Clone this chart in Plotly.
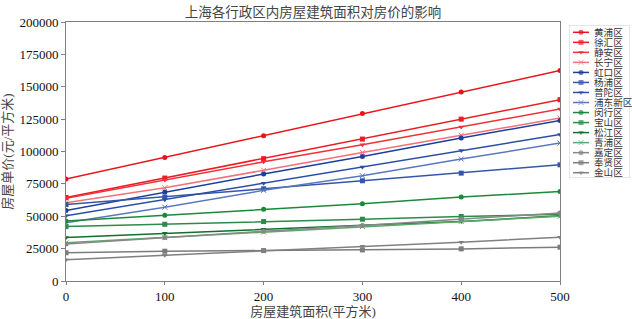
import plotly.graph_objects as go

areas = [0, 100, 200, 300, 400, 500]

districts = ["黄浦区", "徐汇区", "静安区", "长宁区",
             "虹口区", "杨浦区", "普陀区", "浦东新区",
             "闵行区", "宝山区", "松江区", "青浦区",
             "嘉定区", "奉贤区", "金山区"]

huangpu = [78700, 95400, 112200, 129300, 146000, 162500]
xuhui = [64500, 79500, 94500, 109600, 125000, 140000]
jingan = [63800, 78000, 92000, 105200, 118900, 132800]
changning = [60500, 72000, 85500, 99300, 112500, 125800]
hongkou = [54500, 68700, 82600, 96200, 110400, 124000]
yangpu = [59000, 64900, 71200, 77400, 83300, 89700]
putuo = [50300, 62800, 75500, 88000, 100800, 113200]
pudong = [45000, 57000, 70000, 81300, 94200, 106500]
minhang = [46400, 50800, 55500, 59600, 64800, 69100]
baoshan = [42000, 43800, 45900, 47700, 49800, 51500]
songjiang = [33600, 36900, 40000, 43000, 46000, 50300]
qingpu = [29500, 33500, 37800, 42000, 46000, 50000]
jiading = [28600, 33500, 38500, 42800, 47800, 52600]
fengxian = [21800, 23000, 23500, 24000, 24800, 26100]
jinshan = [16500, 19800, 23300, 26800, 30000, 33800]

series = [huangpu, xuhui, jingan, changning, hongkou, yangpu, putuo, pudong,
          minhang, baoshan, songjiang, qingpu, jiading, fengxian, jinshan]

colors = ["#e8141c", "#ec1c24", "#f0303a", "#f27078",
          "#1c3f9a", "#3556a8", "#2a4ea8", "#5a78c0",
          "#1a8a3a", "#2a8c48", "#11702c", "#5aaa6a",
          "#888888", "#7c7c7c", "#808080"]
symbols = ["circle", "square", "triangle-down", "x-thin"] * 3 + ["circle", "square", "triangle-down"]

NUMFONT = '"Liberation Serif", "Times New Roman", serif'
FONT = '"Liberation Serif", "Times New Roman", "Noto Sans CJK SC", serif'

fig = go.Figure()
for name, vals, c, s in zip(districts, series, colors, symbols):
    fig.add_trace(go.Scatter(
        x=areas, y=vals, name=name, mode="lines+markers",
        line=dict(color=c, width=1.5),
        marker=dict(symbol=s, size=5, color=c, line=dict(color=c, width=1 if s == "x-thin" else 0)),
        showlegend=False, xaxis="x", yaxis="y"))

# manual legend drawn on a helper axis (pixel-like coordinates)
leg_top, leg_step = 32.3, 10.03
for i, (name, c, s) in enumerate(zip(districts, colors, symbols)):
    yy = leg_top + leg_step * i
    fig.add_trace(go.Scatter(
        x=[573, 581, 589], y=[yy, yy, yy], mode="lines+markers",
        line=dict(color=c, width=1.5),
        marker=dict(symbol=s, size=[0, 5, 0], color=c,
                    line=dict(color=c, width=1 if s == "x-thin" else 0)),
        showlegend=False, hoverinfo="skip", xaxis="x2", yaxis="y2"))
    fig.add_annotation(x=592, y=yy, xref="x2", yref="y2", text=name,
                       showarrow=False, xanchor="left", yanchor="middle",
                       font=dict(family=FONT, size=9.6, color="#333"))

fig.add_shape(type="rect", xref="x2", yref="y2", x0=569, x1=630, y0=25, y1=178,
              line=dict(color="#cccccc", width=1), fillcolor="rgba(255,255,255,0.8)", layer="below")

W, H = 632, 319
L, R, T, B = 66, 2, 22, 38
pw = W - L - R
main_right = (560 - L) / pw

fig.update_layout(
    width=W, height=H,
    margin=dict(l=L, r=R, t=T, b=B, autoexpand=False),
    paper_bgcolor="white", plot_bgcolor="white",
    title=dict(text="上海各行政区内房屋建筑面积对房价的影响", x=(66 + 560) / 2 / W, xanchor="center",
               y=1 - 12 / H, yanchor="middle", automargin=False,
               font=dict(family=FONT, size=13.5, color="#444")),
    xaxis=dict(domain=[0, main_right], range=[0, 500], tickvals=[0, 100, 200, 300, 400, 500],
               showgrid=False, zeroline=False, showline=True, mirror=True, automargin=False,
               linecolor="#808080", linewidth=1, ticks="outside", ticklen=3, tickcolor="#808080",
               tickfont=dict(family=NUMFONT, size=13, color="#111"),
               title=dict(text="房屋建筑面积(平方米)", font=dict(family=FONT, size=13, color="#444"), standoff=2)),
    yaxis=dict(domain=[0, 1], range=[0, 200000], tickvals=[0, 25000, 50000, 75000, 100000, 125000, 150000, 175000, 200000],
               ticktext=["0", "25000", "50000", "75000", "100000", "125000", "150000", "175000", "200000"],
               showgrid=False, zeroline=False, showline=True, mirror=True, automargin=False,
               linecolor="#808080", linewidth=1, ticks="outside", ticklen=4, tickcolor="#808080",
               tickfont=dict(family=NUMFONT, size=13, color="#111"),
               title=dict(text="房屋单价(元/平方米)", font=dict(family=FONT, size=13, color="#444"), standoff=3)),
    xaxis2=dict(domain=[(569 - L) / pw, 1], range=[569, 630], visible=False, fixedrange=True, anchor="y2"),
    yaxis2=dict(domain=[(281 - 178) / (H - T - B), (281 - 25) / (H - T - B)], range=[178, 25],
                visible=False, fixedrange=True, anchor="x2"),
    showlegend=False,
)

fig.write_html("out.html", config={"displayModeBar": False},
               post_script="document.body.style.margin='0px';document.body.style.overflow='hidden';")
